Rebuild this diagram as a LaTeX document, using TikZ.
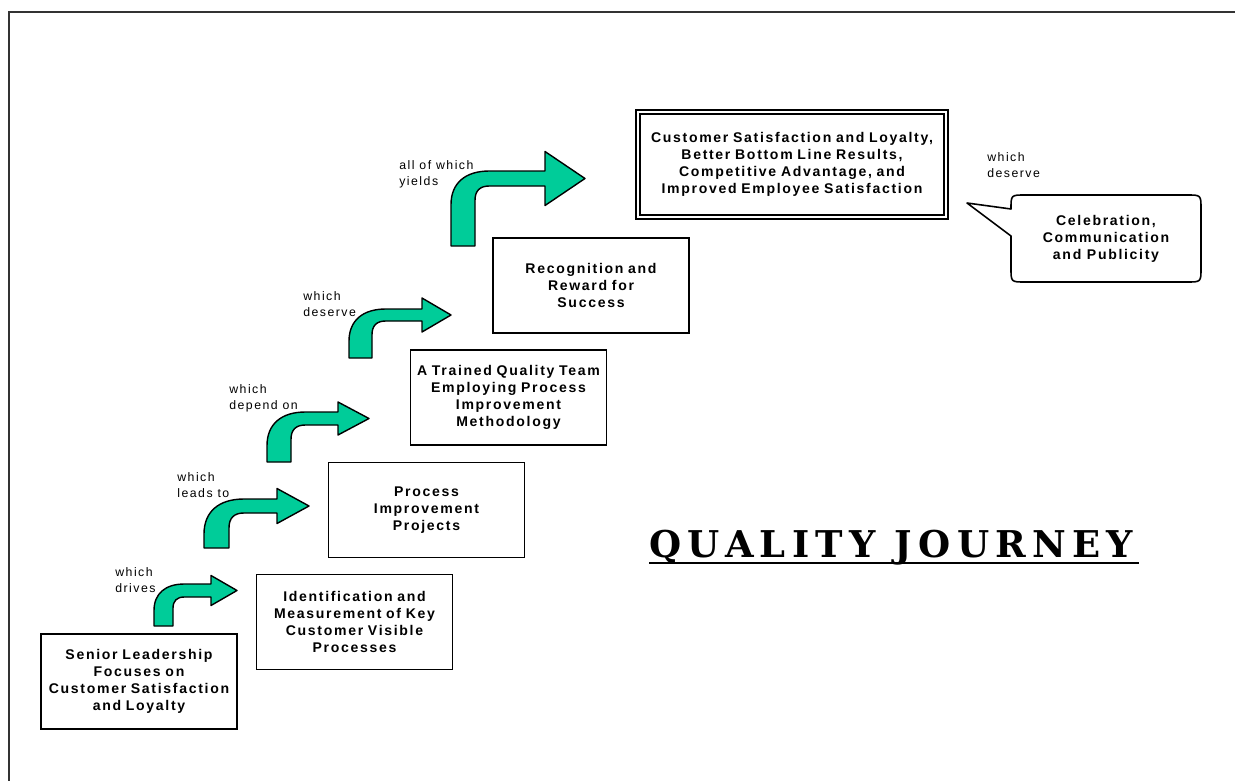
\documentclass[tikz,border=0pt]{standalone}
\usepackage{fontspec}
\setmainfont{Liberation Sans}
\newfontfamily\boxfont[LetterSpace=12]{Liberation Sans}
\newfontfamily\notefont[LetterSpace=12]{Liberation Sans}
\newfontfamily\titlefont[LetterSpace=17]{DejaVu Serif}
\usepackage{tikz}
\usetikzlibrary{positioning, calc}
\definecolor{arrowgreen}{RGB}{0,204,153}
\definecolor{framegray}{RGB}{51,51,51}

\newcommand{\bentarrow}[8]{%
  \draw[bent] (#1,#3) -- (#1,{#5+1.4*(#2-#1)})
    .. controls (#1,{#5+0.5*(#2-#1)}) and ({#1+0.6*(#2-#1)},#5) .. ({#1+1.6*(#2-#1)},#5)
    -- (#4,#5) -- (#4,{(#5+#6)/2-#7}) -- (#8,{(#5+#6)/2}) -- (#4,{(#5+#6)/2+#7})
    -- (#4,#6) -- ({#2+0.6*(#2-#1)},#6)
    .. controls ({#2+0.2*(#2-#1)},#6) and (#2,{#6+0.2*(#2-#1)}) .. (#2,{#6+0.6*(#2-#1)})
    -- (#2,#3) -- cycle;}

\begin{document}
\begin{tikzpicture}[
  x=0.02cm, y=-0.02cm,
  stage/.style={draw, line width=1.1pt, minimum width=3.92cm, minimum height=1.9cm,
                text width=3.8cm, align=center, inner sep=0.6mm,
                font={\boxfont\bfseries\fontsize{8}{9.8}\selectfont}},
  goal/.style={stage, double, double distance=1.3pt, line width=0.9pt,
               minimum width=6.16cm, minimum height=2.1cm, text width=6cm},
  note/.style={anchor=west, align=left, inner sep=0pt,
               font={\notefont\fontsize{7}{9}\selectfont}},
  bent/.style={draw=black, line width=0.8pt, fill=arrowgreen, line join=round},
  bubble/.style={draw, line width=0.9pt, line join=round},
]
\useasboundingbox (0,0) rectangle (1235,781);
\draw[framegray, line width=1.1pt] (9,781) -- (9,12) -- (1235,12);

\node[stage] (lead)   at (139,681.5) {Senior Leadership\\Focuses on\\Customer Satisfaction\\and Loyalty};
\node[stage] (ident)  at (354.5,622) {Identification and\\Measurement of Key\\Customer Visible\\Processes};
\node[stage] (proc)   at (426.5,510) {Process\\Improvement\\Projects};
\node[stage] (team)   at (508.5,397.5) {A Trained Quality Team\\Employing Process\\Improvement\\Methodology};
\node[stage] (recog)  at (591,285.5) {Recognition and\\Reward for\\Success};
\node[goal]  (result) at (792,164.5) {Customer Satisfaction and Loyalty,\\Better Bottom Line Results,\\Competitive Advantage, and\\Improved Employee Satisfaction};

\bentarrow{154}{173}{626}{211}{584}{597}{15}{237}
\bentarrow{204}{229}{548}{277}{499}{513}{17.5}{309}
\bentarrow{267}{291}{462}{338}{412}{425}{16.5}{369}
\bentarrow{349}{372}{358}{422}{309}{321}{17}{451}
\bentarrow{451}{475}{246}{545}{171}{186}{27}{585}

\node[note] (drives)  at (115,580)   {which\\drives};
\node[note] (leads)   at (177,485.5) {which\\leads to};
\node[note] (depend)  at (229,398)   {which\\depend on};
\node[note] (deserve) at (303,304)   {which\\deserve};
\node[note] (yields)  at (399,174)   {all of which\\yields};
\node[note] (merit)   at (987,165)   {which\\deserve};

\coordinate (tip) at (967,203);
\node[align=center, inner sep=0pt, font={\boxfont\bfseries\fontsize{8}{9.8}\selectfont}]
  (celeb) at (1106,239) {Celebration,\\Communication\\and Publicity};
\draw[bubble] (tip) -- (1011,236) -- (1011,268) .. controls (1011,282) .. (1025,282)
  -- (1187,282) .. controls (1201,282) .. (1201,268) -- (1201,209)
  .. controls (1201,195) .. (1187,195) -- (1025,195) .. controls (1011,195) .. (1011,209) -- cycle;

\node[anchor=base west, inner sep=0pt, font={\titlefont\bfseries\fontsize{21}{25}\selectfont}]
  (title) at (649,557) {QUALITY JOURNEY};
\draw[line width=1.5pt] ([yshift=-0.12cm]title.base west) -- ([yshift=-0.12cm, xshift=0.1cm]title.base east);
\end{tikzpicture}
\end{document}
